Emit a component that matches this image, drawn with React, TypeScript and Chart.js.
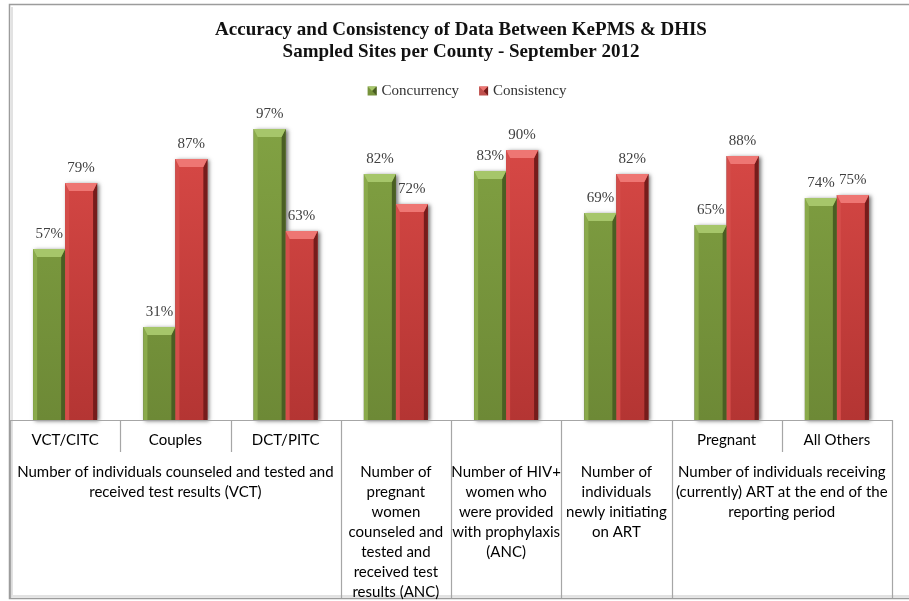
import React, { useEffect, useRef } from 'react';
import { Chart, registerables } from 'chart.js';

Chart.register(...registerables);

const categories = ['VCT/CITC', 'Couples', 'DCT/PITC', '', '', '', 'Pregnant', 'All Others'];
const concurrency = [57, 31, 97, 82, 83, 69, 65, 74];
const consistency = [79, 87, 63, 72, 90, 82, 88, 75];
const seriesNames = ['Concurrency', 'Consistency'];
const titleLines = [
  'Accuracy and Consistency of Data Between KePMS & DHIS',
  'Sampled Sites per County - September 2012',
];
const groupLabels = [
  ['Number of individuals counseled and tested and', 'received test results (VCT)'],
  ['Number of', 'pregnant', 'women', 'counseled and', 'tested and', 'received test', 'results (ANC)'],
  ['Number of HIV+', 'women who', 'were provided', 'with prophylaxis', '(ANC)'],
  ['Number of', 'individuals', 'newly initiating', 'on ART'],
  ['Number of individuals receiving', '(currently) ART at the end of the', 'reporting period'],
];
const groupStart = [0, 3, 4, 5, 6];
const groupEnd = [2, 3, 4, 5, 7];

const W = 909;
const H = 601;

const palette = [
  { top: '#82A243', bottom: '#6D8936', cap: '#A6C66A', left: '#8AAA4B', right: '#4A5E23', legend: '#77933C' },
  { top: '#DA4A47', bottom: '#B43533', cap: '#EE7673', left: '#D44D4A', right: '#761C1B', legend: '#C0504D' },
];

const decorPlugin = {
  id: 'decor',
  beforeDraw(chart: any) {
    const ctx = chart.ctx;
    ctx.save();
    ctx.fillStyle = '#ffffff';
    ctx.fillRect(0, 0, chart.width, chart.height);
    ctx.strokeStyle = '#e2e2e2';
    ctx.lineWidth = 2;
    ctx.beginPath();
    ctx.moveTo(12, 7);
    ctx.lineTo(12, 596);
    ctx.lineTo(chart.width, 596);
    ctx.stroke();
    ctx.strokeStyle = '#9c9c9c';
    ctx.lineWidth = 1.5;
    ctx.beginPath();
    ctx.moveTo(chart.width, 4.5);
    ctx.lineTo(9.5, 4.5);
    ctx.lineTo(9.5, 598.5);
    ctx.lineTo(chart.width, 598.5);
    ctx.stroke();
    ctx.restore();
  },
  beforeDatasetsDraw(chart: any) {
    const ctx = chart.ctx;
    ctx.save();
    chart.data.datasets.forEach((ds: any, di: number) => {
      const meta = chart.getDatasetMeta(di);
      meta.data.forEach((el: any) => {
        const { x, y, base, width } = el.getProps(['x', 'y', 'base', 'width'], true);
        ctx.shadowColor = 'rgba(0,0,0,0.55)';
        ctx.shadowBlur = 4;
        ctx.shadowOffsetX = 2;
        ctx.shadowOffsetY = 1;
        ctx.fillStyle = '#555';
        ctx.fillRect(x - width / 2, y, width, base - y);
      });
    });
    ctx.restore();
  },
  afterDatasetsDraw(chart: any) {
    const ctx = chart.ctx;
    ctx.save();
    chart.data.datasets.forEach((ds: any, di: number) => {
      const meta = chart.getDatasetMeta(di);
      const p = palette[di];
      meta.data.forEach((el: any, i: number) => {
        const { x, y, base, width } = el.getProps(['x', 'y', 'base', 'width'], true);
        const L = x - width / 2;
        const R = x + width / 2;
        const T = y;
        const B = base;
        const s = 4;
        const t = 8;
        ctx.fillStyle = p.left;
        ctx.beginPath();
        ctx.moveTo(L, T);
        ctx.lineTo(L + s, T + t);
        ctx.lineTo(L + s, B);
        ctx.lineTo(L, B);
        ctx.closePath();
        ctx.fill();
        ctx.fillStyle = p.right;
        ctx.beginPath();
        ctx.moveTo(R, T);
        ctx.lineTo(R - s, T + t);
        ctx.lineTo(R - s, B);
        ctx.lineTo(R, B);
        ctx.closePath();
        ctx.fill();
        ctx.fillStyle = p.cap;
        ctx.beginPath();
        ctx.moveTo(L, T);
        ctx.lineTo(R, T);
        ctx.lineTo(R - s, T + t);
        ctx.lineTo(L + s, T + t);
        ctx.closePath();
        ctx.fill();
        ctx.fillStyle = '#404040';
        ctx.font = '15px "Liberation Serif"';
        ctx.textAlign = 'center';
        ctx.textBaseline = 'alphabetic';
        ctx.fillText(ds.data[i] + '%', x, T - 11);
      });
    });
    ctx.restore();
  },
  afterDraw(chart: any) {
    const ctx = chart.ctx;
    const xs = chart.scales.x;
    const area = chart.chartArea;
    const n = categories.length;
    const cw = (area.right - area.left) / n;
    const edge = (i: number) => xs.getPixelForValue(i) - cw / 2;
    const axisY = area.bottom;
    ctx.save();
    ctx.strokeStyle = '#a6a6a6';
    ctx.lineWidth = 1.2;
    ctx.beginPath();
    ctx.moveTo(area.left, axisY + 0.5);
    ctx.lineTo(area.right, axisY + 0.5);
    ctx.stroke();
    const groupEdges = new Set<number>();
    groupStart.forEach((g) => groupEdges.add(g));
    groupEnd.forEach((g) => groupEdges.add(g + 1));
    for (let i = 0; i <= n; i++) {
      const px = i === n ? area.right : edge(i);
      const isGroup = groupEdges.has(i);
      ctx.beginPath();
      ctx.moveTo(Math.round(px) + 0.5, axisY);
      ctx.lineTo(Math.round(px) + 0.5, isGroup ? 598 : 452);
      ctx.stroke();
    }
    ctx.fillStyle = '#000';
    ctx.font = '15px Lato';
    ctx.textAlign = 'center';
    ctx.textBaseline = 'middle';
    categories.forEach((c, i) => {
      if (c) ctx.fillText(c, xs.getPixelForValue(i), axisY + 20);
    });
    groupLabels.forEach((lines, g) => {
      const cx = (edge(groupStart[g]) + edge(groupEnd[g] + 1)) / 2;
      lines.forEach((ln, k) => ctx.fillText(ln, cx, axisY + 52 + k * 20));
    });
    const cxT = 461;
    ctx.fillStyle = '#111';
    ctx.font = 'bold 19px "Liberation Serif"';
    ctx.fillText(titleLines[0], cxT, 30);
    ctx.fillText(titleLines[1], cxT, 52);
    ctx.font = '15px "Liberation Serif"';
    const box = 9;
    const gap = 5;
    const spacing = 20;
    const widths = seriesNames.map((s) => ctx.measureText(s).width);
    const total = widths.reduce((a, b) => a + b, 0) + 2 * (box + gap) + spacing;
    let lx = 467 - total / 2;
    const ly = 91;
    ctx.textAlign = 'left';
    seriesNames.forEach((s, i) => {
      const p = palette[i];
      ctx.fillStyle = p.legend;
      ctx.fillRect(lx, ly - box / 2, box, box);
      ctx.fillStyle = p.cap;
      ctx.beginPath();
      ctx.moveTo(lx, ly - box / 2);
      ctx.lineTo(lx + box, ly - box / 2);
      ctx.lineTo(lx + box / 2, ly);
      ctx.closePath();
      ctx.fill();
      ctx.fillStyle = p.right;
      ctx.beginPath();
      ctx.moveTo(lx + box, ly - box / 2);
      ctx.lineTo(lx + box, ly + box / 2);
      ctx.lineTo(lx + box / 2, ly);
      ctx.closePath();
      ctx.fill();
      ctx.fillStyle = '#333';
      ctx.fillText(s, lx + box + gap, ly);
      lx += box + gap + widths[i] + spacing;
    });
    ctx.restore();
  },
};

function faceGradient(di: number) {
  return (context: any) => {
    const chart = context.chart;
    const area = chart.chartArea;
    if (!area) return palette[di].legend;
    const g = chart.ctx.createLinearGradient(0, area.top, 0, area.bottom);
    g.addColorStop(0, palette[di].top);
    g.addColorStop(1, palette[di].bottom);
    return g;
  };
}

export default function App() {
  const ref = useRef<HTMLCanvasElement | null>(null);
  useEffect(() => {
    if (!ref.current) return;
    const chart = new Chart(ref.current, {
      type: 'bar',
      data: {
        labels: categories,
        datasets: [
          { label: seriesNames[0], data: concurrency, backgroundColor: faceGradient(0), borderWidth: 0 },
          { label: seriesNames[1], data: consistency, backgroundColor: faceGradient(1), borderWidth: 0 },
        ],
      },
      options: {
        responsive: false,
        animation: false,
        layout: { padding: { left: 10, top: 120, right: W - 892, bottom: H - 420 } },
        datasets: { bar: { categoryPercentage: 0.58, barPercentage: 1.0 } },
        scales: {
          x: { display: false },
          y: { display: false, min: 0, max: 100 },
        },
        plugins: {
          legend: { display: false },
          title: { display: false },
          tooltip: { enabled: false },
        },
      },
      plugins: [decorPlugin],
    });
    if ((document as any).fonts) {
      Promise.all([
        (document as any).fonts.load('15px Lato'),
        (document as any).fonts.load('15px "Liberation Serif"'),
        (document as any).fonts.load('bold 19px "Liberation Serif"'),
      ]).then(() => chart.update()).catch(() => {});
    }
    return () => chart.destroy();
  }, []);
  return (
    <div style={{ position: 'absolute', left: 0, top: 0, width: W, height: H, background: '#fff' }}>
      <canvas ref={ref} width={W} height={H} style={{ display: 'block' }} />
    </div>
  );
}
